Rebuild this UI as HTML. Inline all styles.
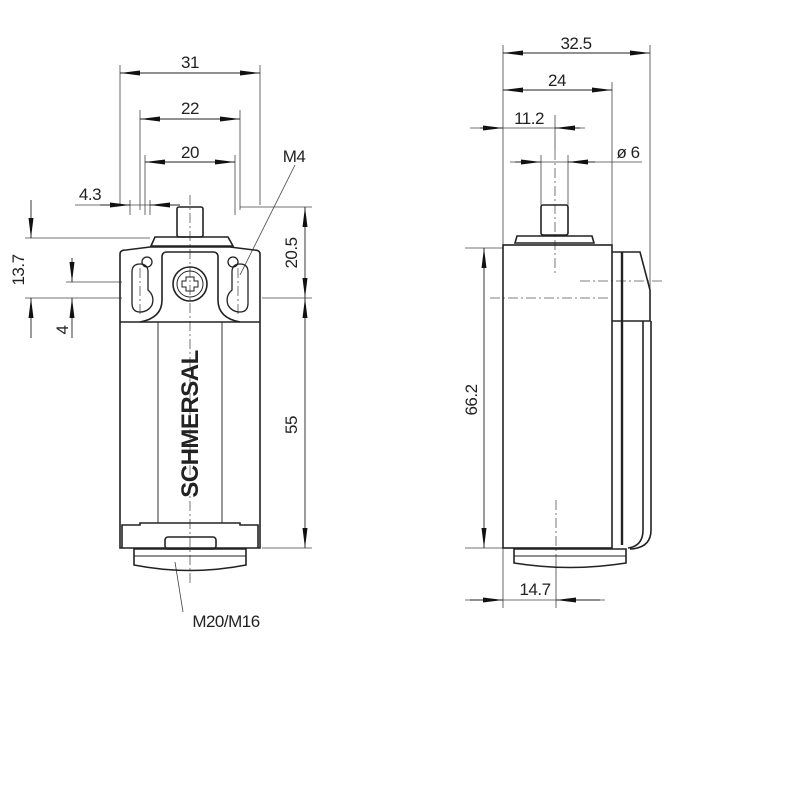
<!DOCTYPE html>
<html><head><style>body{margin:0;background:#fff}svg{display:block}</style></head><body>
<svg width="800" height="800" viewBox="0 0 800 800" xmlns="http://www.w3.org/2000/svg" font-family="Liberation Sans, sans-serif" font-size="16" fill="none" stroke="#222">
<defs>
<marker id="a" viewBox="0 0 20 6" refX="20" refY="3" markerWidth="20" markerHeight="6" orient="auto" markerUnits="userSpaceOnUse"><path d="M0,0.5 L20,3 L0,5.5Z" fill="#111" stroke="none"/></marker>
</defs>
<g stroke-width="0.8" stroke="#444">
<line x1="120" y1="65" x2="120" y2="205"/><line x1="260" y1="65" x2="260" y2="205"/>
<line x1="140" y1="110" x2="140" y2="210"/><line x1="240" y1="110" x2="240" y2="210"/>
<line x1="145" y1="155" x2="145" y2="215"/><line x1="235" y1="155" x2="235" y2="215"/>
<line x1="130" y1="200" x2="130" y2="215"/><line x1="150" y1="200" x2="150" y2="215"/>
<line x1="240" y1="207" x2="312" y2="207"/><line x1="262" y1="298" x2="312" y2="298"/><line x1="262" y1="548" x2="312" y2="548"/>
<line x1="25" y1="238" x2="150" y2="238"/><line x1="25" y1="298" x2="122" y2="298"/><line x1="66" y1="282" x2="122" y2="282"/>
<line x1="75" y1="205" x2="180" y2="205"/>
<line x1="295" y1="165" x2="240" y2="275"/><line x1="175" y1="562" x2="183" y2="612"/>
<line x1="503" y1="45" x2="503" y2="608"/><line x1="650" y1="45" x2="650" y2="290"/><line x1="612" y1="82" x2="612" y2="250"/>
<line x1="555" y1="115" x2="555" y2="150"/><line x1="541" y1="155" x2="541" y2="205"/><line x1="568" y1="155" x2="568" y2="205"/>
<line x1="465" y1="248" x2="503" y2="248"/><line x1="465" y1="548" x2="503" y2="548"/>
<line x1="556" y1="560" x2="556" y2="608"/>
<line x1="465" y1="600" x2="605" y2="600"/>
<line x1="470" y1="128" x2="585" y2="128"/><line x1="510" y1="162" x2="642" y2="162"/>
</g>
<g stroke-width="0.9" stroke="#222">
<line x1="190" y1="73" x2="260" y2="73" marker-end="url(#a)"/>
<line x1="190" y1="73" x2="120" y2="73" marker-end="url(#a)"/>
<line x1="190" y1="119" x2="240" y2="119" marker-end="url(#a)"/><line x1="190" y1="119" x2="140" y2="119" marker-end="url(#a)"/>
<line x1="190" y1="162" x2="235" y2="162" marker-end="url(#a)"/><line x1="190" y1="162" x2="145" y2="162" marker-end="url(#a)"/>
<line x1="100" y1="205" x2="130" y2="205" marker-end="url(#a)"/><line x1="180" y1="205" x2="150" y2="205" marker-end="url(#a)"/>
<line x1="305" y1="250" x2="305" y2="207" marker-end="url(#a)"/><line x1="305" y1="250" x2="305" y2="298" marker-end="url(#a)"/>
<line x1="305" y1="420" x2="305" y2="548" marker-end="url(#a)"/><line x1="305" y1="420" x2="305" y2="298" marker-end="url(#a)"/>
<line x1="31" y1="200" x2="31" y2="238" marker-end="url(#a)"/><line x1="31" y1="338" x2="31" y2="298" marker-end="url(#a)"/>
<line x1="72" y1="258" x2="72" y2="282" marker-end="url(#a)"/><line x1="72" y1="338" x2="72" y2="298" marker-end="url(#a)"/>
<line x1="576" y1="53" x2="650" y2="53" marker-end="url(#a)"/><line x1="576" y1="53" x2="503" y2="53" marker-end="url(#a)"/>
<line x1="557" y1="90" x2="612" y2="90" marker-end="url(#a)"/><line x1="557" y1="90" x2="503" y2="90" marker-end="url(#a)"/>
<line x1="480" y1="128" x2="503" y2="128" marker-end="url(#a)"/><line x1="580" y1="128" x2="555" y2="128" marker-end="url(#a)"/>
<line x1="515" y1="162" x2="541" y2="162" marker-end="url(#a)"/><line x1="595" y1="162" x2="568" y2="162" marker-end="url(#a)"/>
<line x1="484" y1="400" x2="484" y2="248" marker-end="url(#a)"/><line x1="484" y1="400" x2="484" y2="548" marker-end="url(#a)"/>
<line x1="470" y1="600" x2="503" y2="600" marker-end="url(#a)"/><line x1="600" y1="600" x2="556" y2="600" marker-end="url(#a)"/>
</g>
<g stroke-width="0.8" stroke="#555" stroke-dasharray="10,3,2,3">
<line x1="190" y1="195" x2="190" y2="585"/><line x1="555" y1="150" x2="555" y2="275"/><line x1="556" y1="500" x2="556" y2="560"/>
<line x1="490" y1="298" x2="610" y2="298"/><line x1="580" y1="281" x2="662" y2="281"/>
<line x1="140" y1="268" x2="140" y2="315"/><line x1="238" y1="268" x2="238" y2="315"/>
</g>
<g stroke-width="1.6" stroke="#222">
<rect x="177" y="207" width="26" height="30" rx="2"/>
<path d="M155,237 H228 L233,246 H151 Z"/>
<path d="M120,254 Q120,250 126,250 L150,247 H230 L254,250 Q260,250 260,254 V548 H120 Z"/>
<line x1="120" y1="322" x2="260" y2="322"/>
<path d="M140,322 Q162,318 162,300 V257 Q162,252 167,252 H213 Q218,252 218,257 V300 Q218,318 240,322"/>
<path d="M122,548 V525 H140 V523 H240 V525 H258 V548"/>
<rect x="165" y="537" width="51" height="12" rx="3"/>
<path d="M134,549 H246 V565 Q190,576 134,565 Z"/><line x1="134" y1="556" x2="246" y2="556" stroke-width="1"/>
<path d="M132,272 Q132,264 140,264 Q148,264 148,272 V290 Q155,296 152,305 Q148,312 140,312 Q132,312 132,303 Z" stroke-width="1.3"/>
<path d="M248,272 Q248,264 240,264 Q232,264 232,272 V290 Q225,296 228,305 Q232,312 240,312 Q248,312 248,303 Z" stroke-width="1.3"/>
<circle cx="147" cy="262" r="5" stroke-width="1.3"/><circle cx="233" cy="262" r="5" stroke-width="1.3"/>
<circle cx="190" cy="284" r="17"/><circle cx="190" cy="284" r="13" stroke-width="1"/>
<path d="M186,277 h8 v4 h4 v6 h-4 v4 h-8 v-4 h-4 v-6 h4z" stroke-width="1"/>
</g>
<line x1="158" y1="322" x2="158" y2="523" stroke="#333" stroke-width="1"/><line x1="222" y1="322" x2="222" y2="523" stroke="#333" stroke-width="1"/>
<text transform="translate(198,424) rotate(-90)" text-anchor="middle" font-size="24" font-weight="bold" fill="#222" stroke="none" letter-spacing="-0.5">SCHMERSAL</text>
<g stroke-width="1.6" stroke="#222">
<rect x="541" y="205" width="27" height="30" rx="2"/>
<path d="M517,236 H592 L594,243 H515 Z"/>
<rect x="503" y="245" width="109" height="303"/>
<path d="M612,252 H640 L650,290 V321 H612"/>
<line x1="622" y1="252" x2="622" y2="545" stroke-width="2.4"/>
<path d="M643,321 V530 Q643,546 628,548 M651,321 V530 Q651,548 630,549"/>
<path d="M514,549 H626 V563 Q570,572 514,563 Z"/><line x1="514" y1="556" x2="626" y2="556" stroke-width="1"/>
</g>
<g fill="#222" stroke="none" font-size="17" letter-spacing="-0.5">
<text x="190" y="68" text-anchor="middle">31</text>
<text x="190" y="114" text-anchor="middle">22</text>
<text x="190" y="158" text-anchor="middle">20</text>
<text x="90" y="200" text-anchor="middle">4.3</text>
<text x="294" y="162" text-anchor="middle">M4</text>
<text x="226" y="627" text-anchor="middle">M20/M16</text>
<text transform="translate(297,253) rotate(-90)" text-anchor="middle">20.5</text>
<text transform="translate(297,425) rotate(-90)" text-anchor="middle">55</text>
<text transform="translate(24,270) rotate(-90)" text-anchor="middle">13.7</text>
<text transform="translate(68,330) rotate(-90)" text-anchor="middle">4</text>
<text x="576" y="49" text-anchor="middle">32.5</text>
<text x="557" y="86" text-anchor="middle">24</text>
<text x="529" y="124" text-anchor="middle">11.2</text>
<text x="628" y="158" text-anchor="middle">ø 6</text>
<text transform="translate(477,400) rotate(-90)" text-anchor="middle">66.2</text>
<text x="535" y="595" text-anchor="middle">14.7</text>
</g>
</svg>
</body></html>
